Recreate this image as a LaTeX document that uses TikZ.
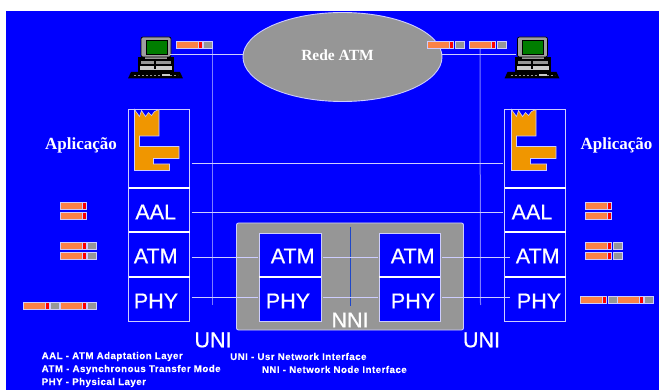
\documentclass[tikz,border=0pt]{standalone}
\usepackage{fontspec}
\usetikzlibrary{shapes.geometric}
\setmainfont{Liberation Sans}
\newfontfamily\serifb[Ligatures=TeX]{Liberation Serif}
\newfontfamily\bigfont[FakeBold=0.5]{Liberation Sans}
\newfontfamily\legfont[FakeBold=0.2,LetterSpace=5]{Liberation Sans Bold}
\definecolor{bg}{RGB}{0,0,255}
\definecolor{gr}{RGB}{150,150,150}
\definecolor{pale}{RGB}{205,205,255}
\definecolor{mid}{RGB}{125,125,255}
\definecolor{org}{RGB}{250,130,70}
\definecolor{cas}{RGB}{240,150,0}
\definecolor{scr}{RGB}{0,125,0}
\tikzset{
  cellbox/.style={draw=pale,fill=bg,line width=0.9pt,minimum width=61pt,inner sep=0pt,outer sep=0pt},
  innerbox/.style={draw=pale,fill=bg,line width=0.9pt,minimum width=62pt,inner sep=0pt,outer sep=0pt},
  big/.style={text=white,font=\bigfont\fontsize{21.5}{24}\selectfont,inner sep=0pt},
  sername/.style={text=white,font=\serifb\bfseries\fontsize{17}{20}\selectfont,inner sep=0pt},
  legend/.style={text=white,anchor=west,inner sep=0pt,font=\legfont\fontsize{9.7}{11}\selectfont},
  link/.style={draw=pale,line width=0.9pt},
  busline/.style={draw=mid,line width=1pt},
}
\newcommand{\pktO}[2]{% orange + red cell, 27 wide
  \fill[pale] (#1,#2) rectangle ++(27,8);
  \fill[org] (#1+1,#2+1) rectangle ++(21,6);
  \fill[red] (#1+23,#2+1) rectangle ++(3,6);}
\newcommand{\pktG}[2]{% gray cell
  \fill[pale] (#1,#2) rectangle ++(10,8);
  \fill[gr] (#1+1,#2+1) rectangle ++(8,6);}
\newcommand{\castle}[2]{%
  \begin{scope}[shift={(#1,#2)}]
  \path[fill=cas,draw=pale,line width=0.6pt] (0,0) -- (0,0) -- (5,7) -- (7,1) -- (11,7) -- (14,3) -- (17,6) -- (20,2) -- (24.5,0)
    -- (24.5,26.5) -- (5,26.5) -- (5,37) -- (44.5,37) -- (44.5,49) -- (19,49) -- (19,54.5) -- (35,54.5) -- (35,61) -- (0,61) -- cycle;
  \end{scope}}
\newcommand{\computer}[2]{%
  \begin{scope}[shift={(#1,#2)}]
  \fill[black] (10,20) rectangle (46,36);
  \fill[gr] (13,24) rectangle (43,27);
  \fill[gr!50] (12,29) rectangle (44,33);
  \fill[black] (26,23) rectangle (28,32);
  \fill[gr] (17,20) rectangle (39,22);
  \filldraw[draw=black,fill=gr!90!white,rounded corners=2pt,line width=0.7pt] (13,0) rectangle (43,20);
  \fill[scr] (18,3) rectangle (39,17);
  \draw[black,line width=0.5pt] (18,3) rectangle (39,17);
  \fill[black] (0,41.5) -- (3,35) -- (52,35) -- (55,41.5) -- cycle;
  \draw[gr,line width=0.6pt,dash pattern=on 2pt off 2pt] (6,38) -- (50,38);
  \fill[gr!50] (34,37) rectangle (42,39);
  \end{scope}}
\begin{document}
\begin{tikzpicture}[x=1pt,y=-1pt]
\useasboundingbox (0,0) rectangle (659,390);
\fill[white] (0,0) rectangle (659,390);
\fill[bg] (6,11) rectangle (659,390);

% vertical UNI lines
\coordinate (ubl) at (212,44);  \coordinate (ubl2) at (212,305);
\coordinate (ubr) at (480,49);  \coordinate (ubr2) at (480.5,305);

% network and computers
\node[ellipse,draw=pale,fill=gr,line width=0.9pt,minimum width=199pt,minimum height=89pt,inner sep=0pt,outer sep=0pt] (net) at (342.5,57) {};
\node[text=white,font=\serifb\bfseries\fontsize{15.5}{18}\selectfont,inner sep=0pt] (netlabel) at (337.5,55) {Rede ATM};
\computer{128}{37}
\computer{504.5}{37}
\coordinate (pcl) at (170,54);
\coordinate (pcr) at (516,54);

% left stack
\node[cellbox,minimum height=79pt] (lapp) at (159,148.5) {};
\node[cellbox,minimum height=44pt] (laal) at (159,210) {};
\node[cellbox,minimum height=45pt] (latm) at (159,254.5) {};
\node[cellbox,minimum height=44pt] (lphy) at (159,299) {};
% right stack
\node[cellbox,minimum height=79pt] (rapp) at (535,148.5) {};
\node[cellbox,minimum height=44pt] (raal) at (535,210) {};
\node[cellbox,minimum height=45pt] (ratm) at (535,254.5) {};
\node[cellbox,minimum height=44pt] (rphy) at (535,299) {};
\draw[white,line width=1.1pt] (lapp.south west) -- (lapp.south east) (laal.south west) -- (laal.south east) (latm.south west) -- (latm.south east);
\draw[white,line width=1.1pt] (rapp.south west) -- (rapp.south east) (raal.south west) -- (raal.south east) (ratm.south west) -- (ratm.south east);
\castle{134.5}{109.5}
\castle{511.5}{109.5}

% switch
\node[rectangle,rounded corners=2pt,draw=pale,fill=gr,line width=0.9pt,minimum width=227pt,minimum height=107pt,inner sep=0pt,outer sep=0pt] (sw) at (350,276.5) {};
\node[innerbox,minimum height=44pt] (satm1) at (290,255) {};
\node[innerbox,minimum height=44pt] (sphy1) at (290,299) {};
\node[innerbox,minimum width=61pt,minimum height=44pt] (satm2) at (409.5,255) {};
\node[innerbox,minimum width=61pt,minimum height=44pt] (sphy2) at (409.5,299) {};
\draw[white,line width=1.1pt] (satm1.south west) -- (satm1.south east) (satm2.south west) -- (satm2.south east);
\coordinate (nnit) at (350,227);
\coordinate (nnib) at (350,306);
\draw[draw={rgb,255:red,30;green,70;blue,200},line width=1pt] (nnit) -- (nnib);

% connectors
\draw[busline] (ubl) -- (ubl2);
\draw[busline] (ubr) -- (ubr2);
\draw[link] (pcl) -- (net.west |- pcl);
\draw[link] (net.east |- pcr) -- (pcr);
\coordinate (yapp) at (0,163.5);
\coordinate (yaal) at (0,212.5);
\coordinate (yatm) at (0,257);
\coordinate (yphy) at (0,297);
\draw[link] ([xshift=2pt]lapp.east |- yapp) -- ([xshift=-2pt]rapp.west |- yapp);
\draw[link] ([xshift=2pt]laal.east |- yaal) -- ([xshift=-2pt]raal.west |- yaal);
\draw[link] ([xshift=2pt]latm.east |- yatm) -- ([xshift=-1pt]satm1.west |- yatm);
\draw[link] ([xshift=2pt]lphy.east |- yphy) -- ([xshift=-1pt]sphy1.west |- yphy);
\draw[link] ([xshift=2pt]satm1.east |- yatm) -- ([xshift=-1pt]satm2.west |- yatm);
\draw[link] ([xshift=2pt]sphy1.east |- yphy) -- ([xshift=-1pt]sphy2.west |- yphy);
\draw[link] ([xshift=2pt]satm2.east |- yatm) -- ([xshift=5pt]ratm.west |- yatm);
\draw[link] ([xshift=2pt]sphy2.east |- yphy) -- ([xshift=5pt]rphy.west |- yphy);

% labels in cells
\node[big] (t1) at (155.7,212) {AAL};
\node[big] (t2) at (155.7,256) {ATM};
\node[big] (t3) at (156,301) {PHY};
\node[big] (t4) at (292.7,256) {ATM};
\node[big] (t5) at (288,301) {PHY};
\node[big] (t6) at (412.7,256) {ATM};
\node[big] (t7) at (413,301) {PHY};
\node[big] (t8) at (532,212) {AAL};
\node[big] (t9) at (537.7,256) {ATM};
\node[big] (t10) at (539,301) {PHY};
\node[big] (t11) at (213,340) {UNI};
\node[big] (t12) at (481.5,340) {UNI};
\node[big] (t13) at (350,320) {NNI};
\node[sername] (t14) at (81,145) {Aplicação};
\node[sername] (t15) at (616.5,145) {Aplicação};

% packets
\pktO{176}{41}\pktG{203}{41}
\pktO{427}{41}\pktG{455}{41}
\pktO{469}{41}\pktG{497}{41}
\pktO{60}{202.5}\pktO{60}{212.5}
\pktO{60}{242.5}\pktG{87}{242.5}\pktO{60}{252}\pktG{87}{252}
\pktO{23}{302}\pktG{50}{302}\pktO{60}{302}\pktG{87}{302}
\pktO{585}{202.5}\pktO{585}{212.5}
\pktO{585}{242.5}\pktG{612.5}{242.5}\pktO{585}{252}\pktG{612.5}{252}
\pktO{580}{296.5}\pktG{607.5}{296.5}\pktO{617}{296.5}\pktG{644}{296.5}

% legend
\node[legend] (l1) at (41.5,356.5) {AAL - ATM Adaptation Layer};
\node[legend] (l2) at (41.5,369.5) {ATM - Asynchronous Transfer Mode};
\node[legend] (l3) at (41.5,382.5) {PHY - Physical Layer};
\node[legend] (l4) at (230,356.5) {UNI - Usr Network Interface};
\node[legend] (l5) at (261.7,369.5) {NNI - Network Node Interface};
\end{tikzpicture}
\end{document}
